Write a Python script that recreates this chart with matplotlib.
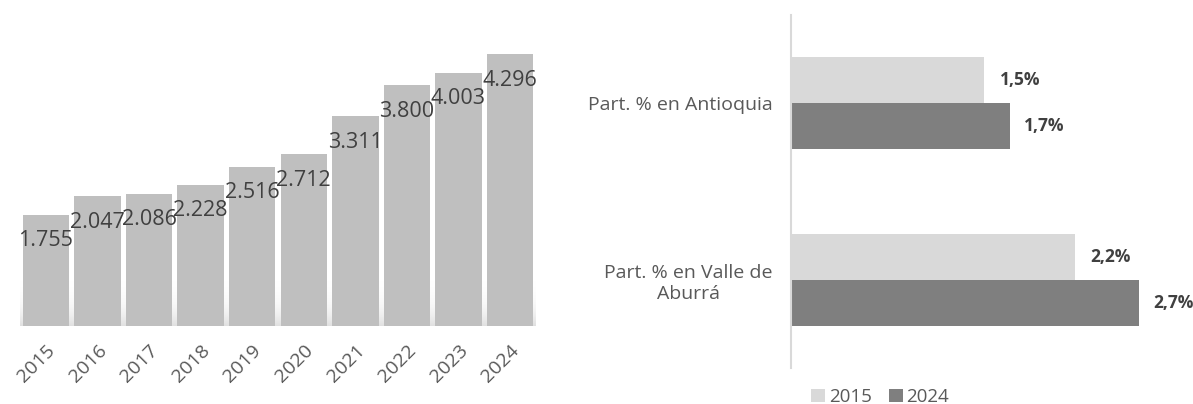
import numpy as np
import matplotlib
matplotlib.use("Agg")
import matplotlib.pyplot as plt
from matplotlib.patches import Patch

plt.rcParams['font.family'] = ['Open Sans', 'DejaVu Sans']

# ---- Data ----
years = ['2015', '2016', '2017', '2018', '2019', '2020', '2021', '2022', '2023', '2024']
values = [1755, 2047, 2086, 2228, 2516, 2712, 3311, 3800, 4003, 4296]
value_labels = ['1.755', '2.047', '2.086', '2.228', '2.516', '2.712', '3.311', '3.800', '4.003', '4.296']

categories = ['Part. % en Antioquia', 'Part. % en Valle de\nAburrá']
series_names = ['2015', '2024']
part_2015 = [1.5, 2.2]
part_2024 = [1.7, 2.7]
part_labels_2015 = ['1,5%', '2,2%']
part_labels_2024 = ['1,7%', '2,7%']

W, H = 1193, 404
fig = plt.figure(figsize=(W / 100, H / 100), dpi=100)

# ---- Left chart ----
ax1 = fig.add_axes([20.2 / W, (H - 326) / H, 515.6 / W, 284.9 / H])
x = np.arange(len(years))
bar_color = '#bfbfbf'

# soft glow at the bottom of the bars
grad = np.zeros((200, 2, 4))
grad[..., :3] = np.array([191, 191, 191]) / 255.0
alpha = np.linspace(0, 1, 200) ** 3 * 0.55
grad[..., 3] = alpha[:, None]
ax1.imshow(grad, extent=(x[0] - 0.5, x[-1] + 0.5, -40, 900), aspect='auto',
           origin='upper', zorder=1, interpolation='bilinear')

ax1.bar(x, values, width=0.9, color=bar_color, zorder=2)
for xi, v, lab in zip(x, values, value_labels):
    ax1.annotate(lab, xy=(xi, v), xytext=(0, -26), textcoords='offset pixels',
                 ha='center', va='center', fontsize=15.5, color='#404040', zorder=3)

ax1.set_xlim(-0.5, len(years) - 0.5)
ax1.set_ylim(0, 4500)
ax1.set_xticks(x)
ax1.set_xticklabels(years, rotation=45, ha='right', va='top', rotation_mode='anchor',
                    fontsize=14, color='#595959')
ax1.tick_params(axis='x', length=0, pad=11)
ax1.set_yticks([])
for s in ax1.spines.values():
    s.set_visible(False)

# ---- Right chart ----
ax2 = fig.add_axes([790.7 / W, (H - 368) / H, 354.75 / W, 353 / H])
y = np.arange(len(categories))
h = 0.26
c15, c24 = '#d9d9d9', '#7f7f7f'
ax2.barh(y - h / 2, part_2015, height=h, color=c15, label=series_names[0])
ax2.barh(y + h / 2, part_2024, height=h, color=c24, label=series_names[1])
for yi, v, lab in zip(y - h / 2, part_2015, part_labels_2015):
    ax2.annotate(lab, xy=(v, yi), xytext=(16, 0), textcoords='offset pixels',
                 ha='left', va='center', fontsize=12.5, fontweight='bold',
                 color='#404040', annotation_clip=False)
for yi, v, lab in zip(y + h / 2, part_2024, part_labels_2024):
    ax2.annotate(lab, xy=(v, yi), xytext=(14, 0), textcoords='offset pixels',
                 ha='left', va='center', fontsize=12.5, fontweight='bold',
                 color='#404040', annotation_clip=False)

ax2.set_xlim(0, 2.75)
ax2.set_ylim(len(categories) - 0.5, -0.5)
ax2.set_xticks([])
ax2.set_yticks(y)
ax2.set_yticklabels(categories, fontsize=14, color='#595959', multialignment='center')
ax2.tick_params(axis='y', length=0, pad=13)
for name, s in ax2.spines.items():
    s.set_visible(name == 'left')
ax2.spines['left'].set_color('#d9d9d9')
ax2.spines['left'].set_linewidth(1.5)

handles = [Patch(facecolor=c15, label=series_names[0]),
           Patch(facecolor=c24, label=series_names[1])]
leg = fig.legend(handles=handles, loc='center', bbox_to_anchor=(880 / W, 1 - 397 / H),
                 ncol=2, frameon=False, fontsize=13.5, handlelength=0.75, handleheight=0.75,
                 handletextpad=0.2, columnspacing=0.9, borderpad=0)
for t in leg.get_texts():
    t.set_color('#595959')

fig.savefig('out.png', dpi=100)
